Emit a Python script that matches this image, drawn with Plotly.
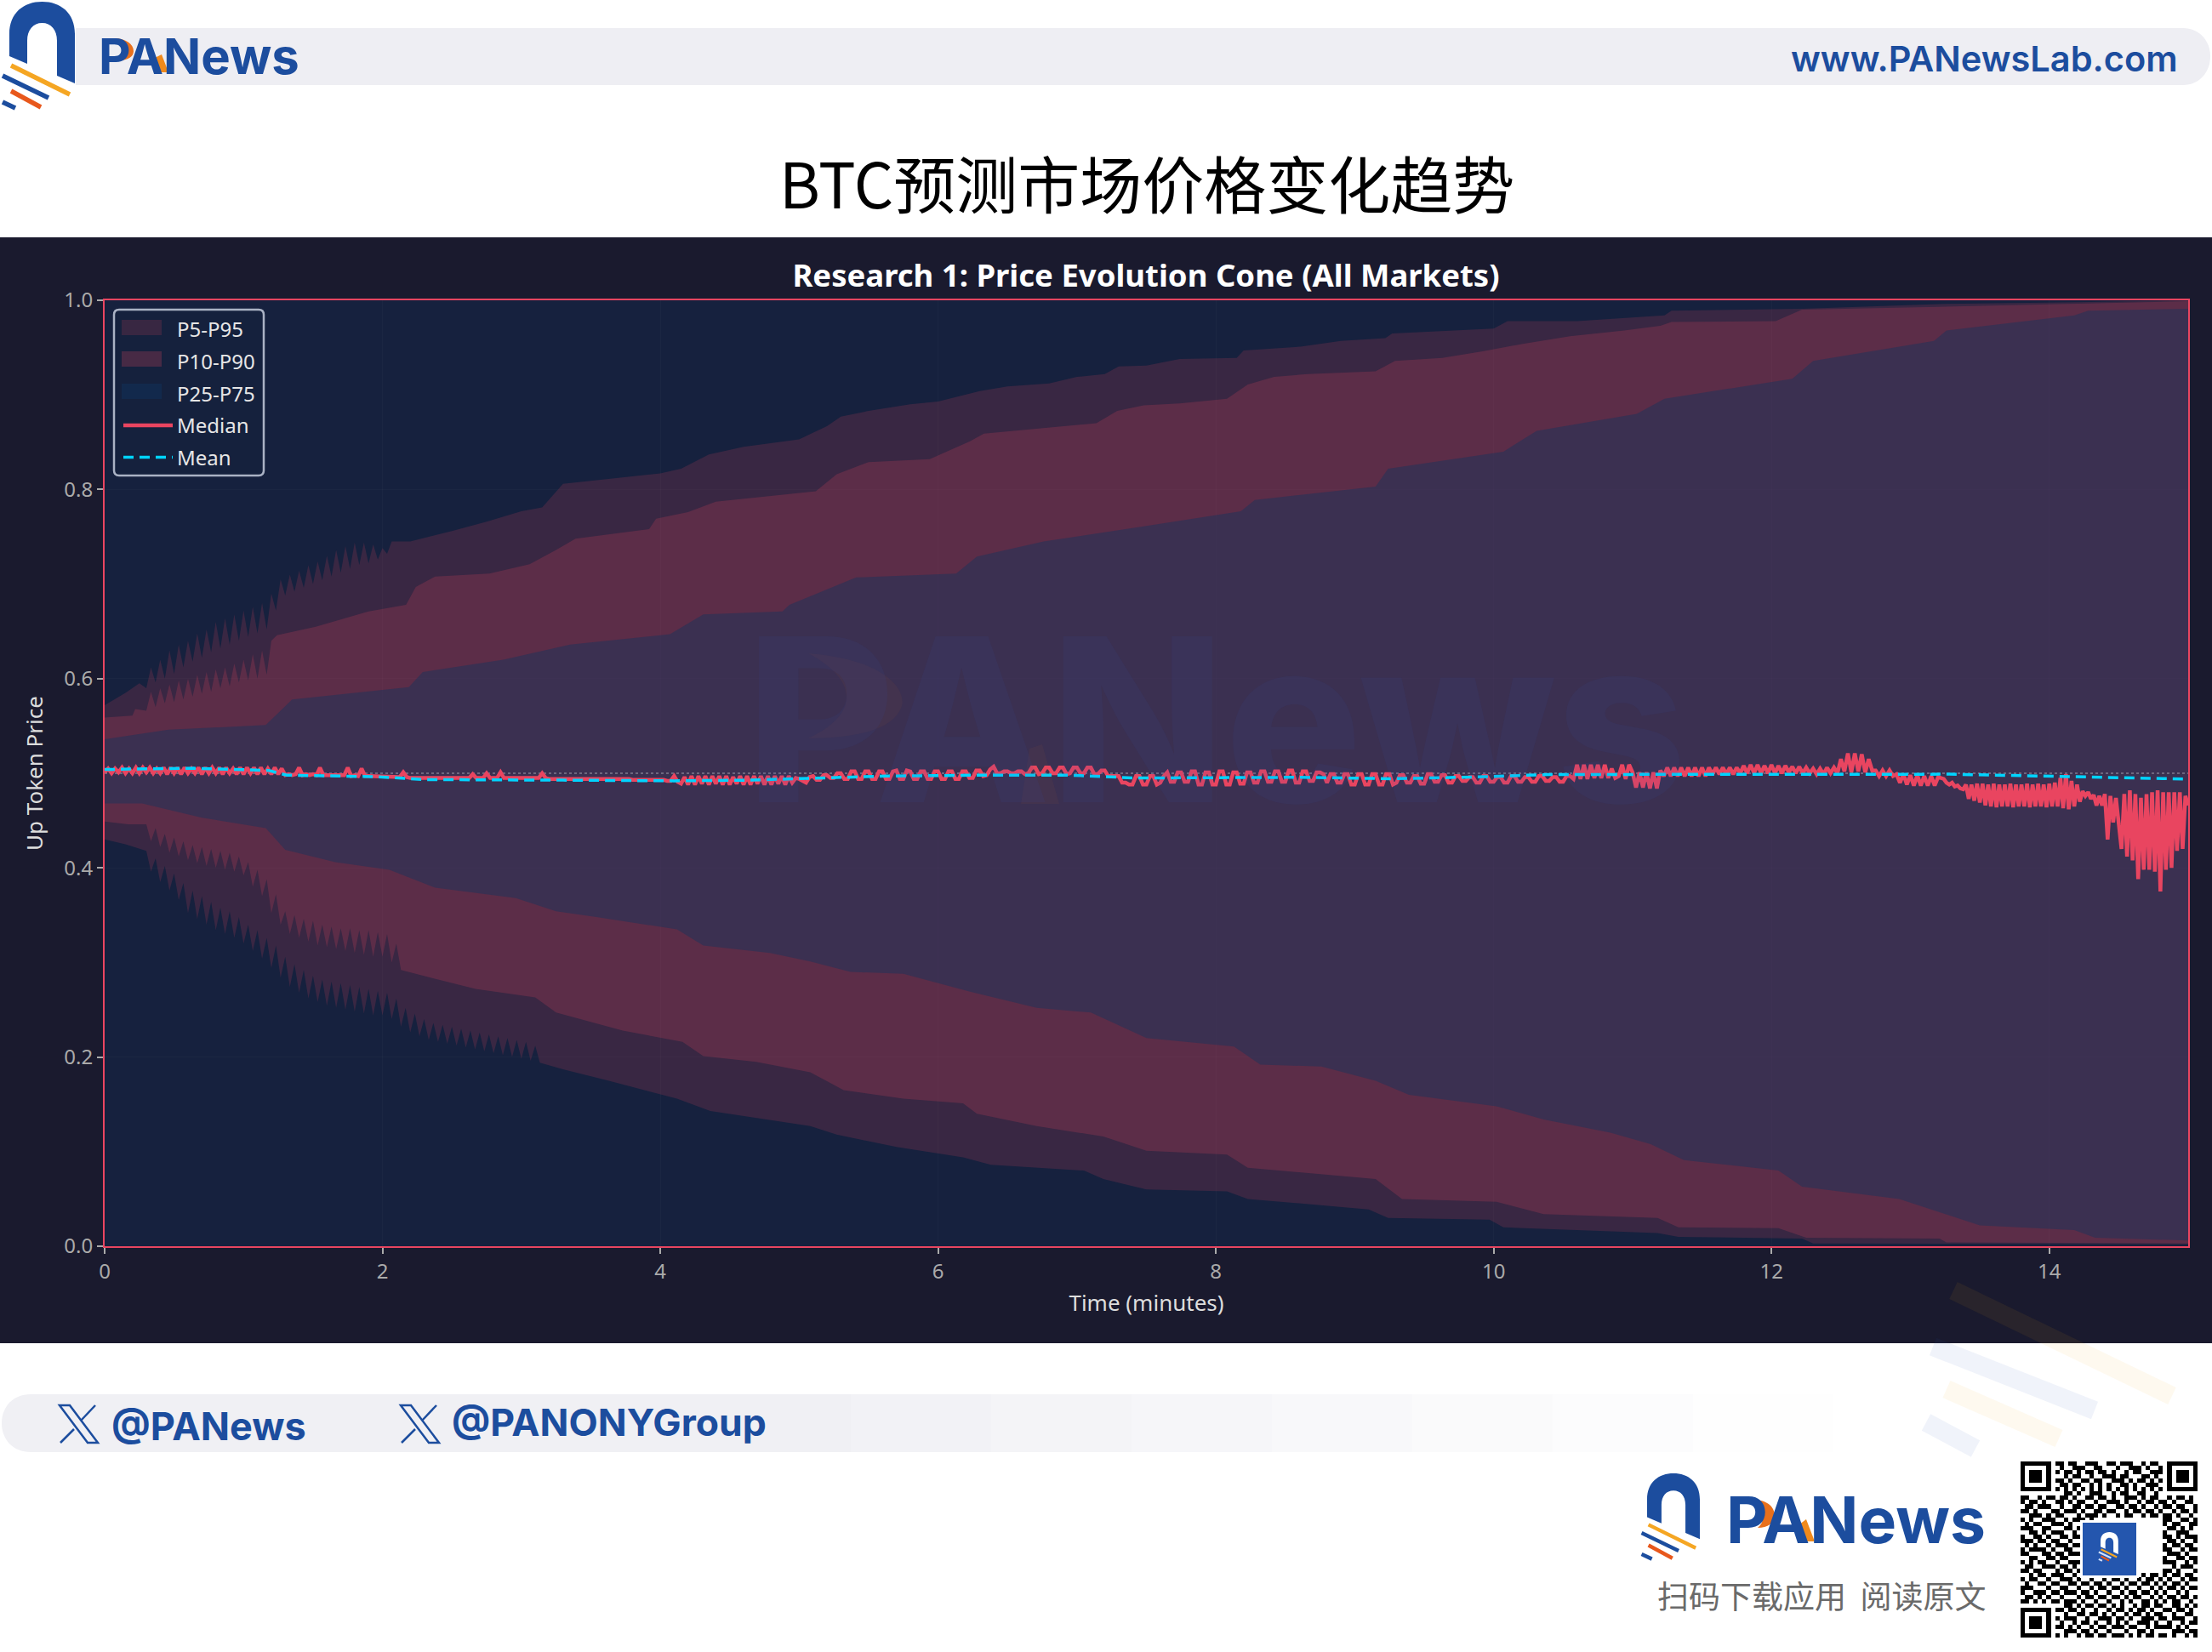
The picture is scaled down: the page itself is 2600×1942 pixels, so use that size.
import plotly.graph_objects as go

W, H = 2600, 1942
TITLE = "Research 1: Price Evolution Cone (All Markets)"
X_TICKS = [0, 2, 4, 6, 8, 10, 12, 14]
Y_TICKS = [0.0, 0.2, 0.4, 0.6, 0.8, 1.0]

# the band edges flicker sample to sample early on: these stretches are read at about 2 s spacing
comb_t = [0.30 + i / 30 for i in range(90)]
p95_comb = [.590,.612,.596,.620,.600,.630,.605,.636,.612,.640,.618,.648,.622,.652,.628,.660,.632,.664,.636,.668,.640,.672,.644,.676,.648,.680,.652,.690,.672,.705,.688,.710,.692,.714,.696,.720,.700,.724,.704,.730,.708,.736,.712,.740,.716,.744,.720,.744,.722,.742,.726,.738,.732,.745]
p90_comb = [.566,.586,.570,.590,.574,.594,.575,.598,.578,.600,.581,.604,.584,.607,.586,.610,.590,.612,.592,.616,.596,.620,.598,.626,.600,.630,.604,.640]
p10_comb = [.446,.428,.442,.422,.436,.416,.432,.412,.428,.408,.424,.405,.422,.402,.420,.400,.418,.398,.416,.396,.412,.392,.406,.380,.398,.370,.388,.352,.372,.340,.354,.330,.350,.326,.346,.322,.344,.318,.340,.316,.338,.314,.336,.312,.336,.310,.334,.308,.334,.306,.332,.306,.330,.300,.320,.292]
p05_comb = [.418,.396,.410,.385,.402,.376,.394,.366,.384,.352,.376,.346,.370,.340,.364,.334,.358,.330,.354,.326,.348,.320,.340,.312,.334,.304,.326,.294,.318,.284,.306,.274,.298,.268,.292,.262,.286,.258,.282,.254,.280,.252,.278,.250,.276,.248,.274,.246,.272,.244,.270,.244,.268,.240,.262,.232,.252,.226,.246,.222,.240,.218,.236,.216,.234,.214,.232,.212,.230,.210,.228,.208,.226,.206,.224,.204,.222,.202,.220,.200,.218,.198,.216,.196,.212,.194]

p95_t = [0,.15,.25] + comb_t[:len(p95_comb)] + [2.2,2.5,2.75,3,3.15,3.3,3.5,3.75,4,4.15,4.35,4.6,5,5.2,5.3,5.5,5.8,6,6.3,6.5,6.8,7,7.2,7.3,7.5,7.74,8.15,8.2,8.61,8.9,9.22,9.27,10,10.1,10.6,11.23,11.28,12.22,13.2,14.2,15]
p95_v = [.572,.585,.595] + p95_comb + [.745,.756,.766,.777,.781,.806,.809,.813,.817,.822,.837,.845,.853,.867,.877,.883,.890,.893,.904,.909,.912,.919,.922,.930,.931,.938,.939,.947,.951,.957,.960,.965,.970,.978,.978,.984,.989,.991,.996,.998,1.0]
p90_t = [0,.2,.22] + comb_t[:len(p90_comb)] + [1.24,1.52,1.9,2.17,2.24,2.38,2.77,3.06,3.25,3.39,3.92,3.97,4.2,4.4,4.74,5.12,5.27,5.5,5.94,6.23,6.33,6.9,7.14,7.29,7.48,7.74,8.08,8.23,8.42,8.66,9.15,9.29,9.63,9.92,10.21,10.55,10.94,11.2,11.28,12.03,12.22,13.2,14.2,15]
p90_v = [.559,.561,.568] + p90_comb + [.646,.655,.671,.678,.697,.708,.711,.721,.736,.748,.758,.769,.776,.787,.792,.798,.816,.829,.832,.851,.859,.867,.870,.883,.889,.891,.896,.911,.919,.922,.925,.936,.939,.946,.954,.962,.968,.973,.977,.978,.990,.993,.996,.999]
p75_t = [0,.46,1.16,1.35,2.19,2.29,2.87,3.35,4.07,4.31,4.88,4.93,5.41,6.13,6.28,6.76,7.48,8.18,8.28,9.15,9.24,10.07,10.31,11.03,11.23,12.15,12.3,13.17,13.26,14.18,14.28,15]
p75_v = [.536,.546,.551,.578,.591,.607,.620,.636,.647,.668,.671,.678,.707,.711,.729,.745,.761,.777,.789,.803,.822,.840,.862,.880,.896,.917,.936,.957,.968,.984,.989,.991]
p25_t = [0,.27,.7,1.16,1.3,1.66,2.05,2.38,2.96,3.25,3.54,4.12,4.31,4.79,5.08,5.37,5.75,6.23,6.71,7.1,7.5,8.13,8.32,8.76,9.15,9.39,10.02,10.36,10.84,11.13,11.37,12.05,12.22,12.92,13.21,13.5,14.18,14.33,15]
p25_v = [.468,.468,.453,.442,.419,.406,.398,.379,.368,.354,.348,.335,.318,.310,.301,.290,.288,.269,.252,.247,.220,.211,.192,.190,.175,.160,.148,.134,.120,.108,.091,.080,.063,.050,.036,.022,.017,.009,.006]
p10_t = [0,.17] + comb_t[:len(p10_comb)] + [2.24,2.67,3.1,3.25,3.73,4.16,4.31,4.69,5.08,5.32,5.75,6.18,6.28,6.71,7.19,7.5,8.08,8.23,9.15,9.34,10.02,10.36,11.18,11.33,12.05,12.25,13.21,13.26,15]
p10_v = [.449,.446] + p10_comb + [.288,.272,.263,.247,.228,.216,.201,.195,.184,.165,.156,.151,.140,.127,.116,.101,.097,.083,.071,.050,.047,.034,.030,.020,.019,.009,.008,.004,.003]
p05_t = [0,.15] + comb_t[:len(p05_comb)] + [3.3,3.63,4.12,4.36,5.08,5.27,5.7,6.18,6.38,7.05,7.19,7.5,8.08,8.23,9.1,9.24,9.97,10.07,11.18,11.33,12.22,12.3,15]
p05_v = [.430,.425] + p05_comb + [.187,.175,.156,.143,.127,.118,.105,.094,.086,.080,.071,.060,.058,.050,.039,.030,.028,.020,.014,.010,.008,.003,.002]

mean_t = [0,.64,1.18,1.31,1.97,2.3,3.3,4.1,4.63,5.16,5.62,6.29,6.95,7.42,7.95,8.61,9.28,9.94,10.39,11.24,12.64,13.28,14.16,15]
mean_v = [.504,.5053,.503,.498,.4963,.4933,.4927,.492,.4927,.495,.497,.498,.498,.495,.495,.4957,.4942,.4963,.4987,.499,.4995,.499,.4964,.4938]

# median, read every 0.025 min up to 13.2 (one row per minute)
median_coarse = [
 .501,.505,.500,.505,.501,.506,.500,.505,.500,.506,.500,.506,.501,.506,.500,.505,.500,.506,.499,.506,.500,.506,.499,.506,.500,.505,.500,.506,.499,.506,.500,.506,.500,.506,.499,.506,.500,.505,.499,.506,
 .499,.506,.500,.506,.499,.506,.499,.505,.499,.506,.499,.505,.498,.499,.498,.499,.506,.498,.499,.498,.499,.498,.506,.498,.498,.498,.497,.498,.497,.498,.506,.497,.498,.497,.505,.497,.497,.497,.496,.497,
 .496,.496,.496,.496,.496,.496,.501,.496,.495,.495,.495,.495,.495,.495,.495,.495,.495,.495,.495,.496,.495,.495,.495,.496,.495,.495,.499,.495,.495,.495,.500,.495,.495,.495,.501,.495,.495,.495,.496,.495,
 .495,.495,.495,.496,.495,.495,.500,.495,.494,.494,.494,.494,.494,.494,.494,.495,.494,.494,.494,.494,.494,.494,.494,.494,.494,.494,.494,.495,.494,.494,.494,.494,.493,.493,.493,.494,.493,.493,.493,.494,
 .493,.493,.492,.492,.497,.491,.489,.496,.488,.497,.488,.497,.489,.497,.488,.497,.489,.497,.488,.497,.488,.496,.489,.497,.488,.497,.488,.497,.489,.497,.488,.497,.488,.497,.489,.497,.488,.497,.490,.495,
 .494,.492,.490,.496,.497,.493,.493,.498,.498,.495,.495,.500,.500,.494,.494,.502,.502,.494,.494,.502,.502,.494,.494,.502,.502,.494,.494,.502,.503,.494,.494,.503,.502,.494,.494,.502,.502,.494,.494,.502,
 .502,.494,.494,.502,.502,.494,.494,.502,.502,.495,.495,.503,.503,.497,.498,.504,.507,.500,.500,.502,.502,.500,.500,.502,.502,.499,.500,.506,.506,.499,.500,.506,.506,.500,.500,.506,.506,.499,.500,.506,
 .506,.500,.500,.506,.506,.499,.499,.503,.503,.497,.497,.497,.497,.490,.490,.488,.488,.497,.497,.488,.488,.497,.497,.488,.490,.497,.501,.491,.491,.501,.501,.491,.491,.502,.502,.488,.488,.501,.501,.488,
 .488,.502,.502,.488,.488,.501,.501,.489,.489,.501,.501,.490,.490,.502,.502,.491,.491,.502,.502,.491,.491,.503,.503,.490,.490,.502,.502,.492,.492,.501,.501,.499,.490,.499,.499,.490,.490,.499,.499,.488,
 .488,.499,.499,.488,.488,.499,.499,.488,.488,.499,.499,.488,.490,.498,.498,.490,.490,.497,.497,.489,.489,.499,.499,.491,.491,.498,.498,.490,.490,.497,.497,.492,.492,.496,.496,.490,.490,.497,.497,.491,
 .491,.496,.496,.490,.490,.497,.497,.491,.491,.496,.496,.491,.491,.497,.497,.492,.492,.496,.496,.491,.491,.497,.497,.494,.509,.494,.509,.494,.509,.495,.509,.495,.509,.495,.505,.495,.497,.509,.494,.509,
 .501,.485,.501,.485,.501,.484,.501,.484,.503,.497,.506,.497,.506,.497,.506,.497,.506,.497,.506,.497,.506,.497,.506,.499,.506,.499,.506,.499,.506,.499,.506,.500,.508,.500,.509,.500,.509,.500,.508,.500,
 .509,.500,.508,.500,.508,.501,.507,.500,.507,.500,.506,.500,.505,.499,.505,.499,.506,.500,.506,.500,.515,.502,.521,.501,.521,.502,.520,.501,.515,.503,.503,.497,.503,.497,.503,.497,.499,.490,.499,.488,
 .498,.487,.498,.487,.497,.487,.497,.487,.496]
median_coarse_t = [i * 0.025 for i in range(len(median_coarse))]

# median, read every 0.02 min from 13.24 to the end
median_fine = [
 .494,.490,.488,.490,.486,.487,.484,.483,.488,.473,.488,.471,.489,.469,.489,.466,
 .488,.465,.489,.464,.488,.465,.488,.465,.489,.464,.488,.465,.488,.465,.489,.464,
 .488,.465,.489,.465,.488,.464,.489,.465,.490,.465,.495,.463,.499,.462,.492,.465,.488,.470,
 .481,.476,.480,.473,.477,.466,.476,.466,.478,.430,.476,.448,.474,.446,.420,.478,.412,.482,
 .408,.478,.388,.474,.398,.478,.398,.480,.396,.482,.375,.480,.398,.480,.400,.480,.418,.480,.420,.476,.466]
median_fine_t = [13.24 + i * 0.02 for i in range(len(median_fine))]
median_t = median_coarse_t + median_fine_t
median_v = median_coarse + median_fine

FINDER = ["11111110","10000010","10111010","10111010","10111010","10000010","11111110","00000000"]
qr_top = ["1101100111001101110010110","0100111001100010011101001","1011010110110100101100111","0010110010011101100011010",
          "1101001101100111010110101","0110110010101001101001110","1010101010101010101010101","0011010011100101100110010"]
qr_mid = [
 "11001011011010011011010011101011001011010","10110100110101100100111010010110110100110",
 "01101110010011011011001101101001011011001","11010001101110100110110010110110100101101",
 "00111010110001011101001011001011011010010","10100111001011101000000000000000011001101",
 "01011001110100110100000000000000010110011","11100110001101011000000000000000001101010",
 "00110101110010100100000000000000010011100","10011010011011011000000000000000011010111",
 "11101101100100101100000000000000001101001","01010010111011010000000000000000010110110",
 "10111101001100101100000000000000011001011","11000110110111010000000000000000001110100",
 "00110011011000101100000000000000010011011","10101100100111011000000000000000011100101",
 "01100111011010100100000000000000000101110","11011000101101011000000000000000011010001",
 "00101101110010110110100101101011010110110","10110010011101001001011010010110101001011",
 "01001101100110110110100101101101010110100","11100010011001001011011010010010101101011",
 "10011101101110110100100101101101010010100","01101010010001011011011010110010101101101",
 "11010101101110100100100101001101010110010"]
qr_bottom = ["0011010110110101001011011","1101101001001011010110100","0010011011010100101101011","1011100100111011010011101",
             "0100101101001010100111010","1101010010110111011001011","0011101101001000100110100","1010010110110111010101101"]
qr_rows = [FINDER[i] + qr_top[i] + FINDER[i][::-1] for i in range(8)]
qr_rows += [r[:41].ljust(41, "0") for r in qr_mid]
_rev = FINDER[::-1]
qr_rows += [_rev[i] + (qr_bottom[i] + qr_bottom[i])[:33] for i in range(8)]
qr_z = [[int(c) for c in r] for r in qr_rows]

BLUE = "#1c4d9e"; ORANGE = "#f5a623"; RED_O = "#e8581c"
fx = lambda p: p / W
fy = lambda p: 1 - p / H
shapes, annos = [], []

def rect(x0, y0, x1, y1, fill, layer="below", line=None):
    shapes.append(dict(type="rect", xref="paper", yref="paper", x0=fx(x0), x1=fx(x1), y0=fy(y0), y1=fy(y1),
                       fillcolor=fill, layer=layer, line=line or dict(width=0)))

def path(points, fill=None, layer="above", line=None, close=True, tf=lambda x, y: (x, y)):
    d = ""
    for seg_ in points:
        cmd, vals = seg_[0], seg_[1:]
        pts = [tf(vals[i], vals[i + 1]) for i in range(0, len(vals), 2)]
        d += cmd + " ".join(f"{fx(a):.5f},{fy(b):.5f}" for a, b in pts) + " "
    if close:
        d += "Z"
    shapes.append(dict(type="path", xref="paper", yref="paper", path=d, fillcolor=fill or "rgba(0,0,0,0)",
                       layer=layer, line=line or dict(width=0)))

def seg(x0, y0, x1, y1, color, width, layer="above"):
    shapes.append(dict(type="line", xref="paper", yref="paper", x0=fx(x0), x1=fx(x1), y0=fy(y0), y1=fy(y1),
                       layer=layer, line=dict(color=color, width=width)))

def text(px, py, s, size, color, anchor="left", weight=400, family="Inter", **kw):
    annos.append(dict(x=fx(px), y=fy(py), xref="paper", yref="paper", text=s, showarrow=False, xanchor=anchor,
                      yanchor="middle", font=dict(size=size, color=color, family=family, weight=weight), **kw))

def logo(ox, oy, k, arch=BLUE, stripes=(ORANGE, BLUE, RED_O, BLUE), sw=5.5, layer="above"):
    tf = lambda x, y: (ox + (x - 11) * k, oy + (y - 2) * k)
    path([("M", 11, 66), ("L", 11, 40), ("C", 11, 15, 28, 2, 49.5, 2), ("C", 71, 2, 88, 15, 88, 40), ("L", 88, 98), ("L", 67, 89),
          ("L", 67, 48), ("C", 67, 35, 60, 27, 49.5, 27), ("C", 39, 27, 32, 35, 32, 48), ("L", 32, 75)], fill=arch, tf=tf, layer=layer)
    for (a, b, c, d), col in zip([(13, 77, 82, 111), (3, 89, 57, 115), (13, 107, 48, 126), (3, 120, 18, 127)], stripes):
        p, q = tf(a, b), tf(c, d)
        seg(p[0], p[1], q[0], q[1], col, sw * k, layer=layer)

# page furniture
rect(0, 279, 2600, 1579, "#1a1a2e")
rect(123, 353, 2572, 1465, "#16213e")
path([("M", 89, 33), ("L", 2566, 33), ("C", 2585, 33, 2598, 48, 2598, 66), ("C", 2598, 85, 2585, 100, 2566, 100), ("L", 89, 100)],
     fill="#eeeef3", layer="below")
logo(11, 2, 1.0)
text(114, 66, "PANews", 58, BLUE, weight=700)
path([("M", 134, 45), ("C", 148, 45, 157, 52, 157, 60), ("C", 157, 67, 150, 71, 140, 71), ("C", 148, 66, 148, 54, 134, 45)], fill="#e8701c")
path([("M", 182, 68), ("L", 190, 64), ("L", 198, 85), ("L", 186, 85)], fill="#f08a1c")
text(2562, 69, "www.PANewsLab.com", 41.5, BLUE, anchor="right", weight=600)
text(1348, 213, "BTC预测市场价格变化趋势", 73, "#000000", anchor="center", family="Noto Sans CJK SC")

# footer bar
path([("M", 36, 1639), ("L", 1000, 1639), ("L", 1000, 1707), ("L", 36, 1707), ("C", 15, 1707, 2, 1692, 2, 1673), ("C", 2, 1654, 15, 1639, 36, 1639)],
     fill="#f0f0f4", layer="below")
for i, c in enumerate(["#f2f2f6", "#f4f4f7", "#f6f6f9", "#f8f8fa", "#fafafb", "#fcfcfd", "#fefefe"]):
    rect(1000 + i * 165, 1639, 1165 + i * 165, 1707, c)
for ox in (70, 471):
    path([("M", ox, 1652), ("L", ox + 12, 1652), ("L", ox + 45, 1696), ("L", ox + 33, 1696)], line=dict(color=BLUE, width=2.5))
    seg(ox + 42, 1652, ox + 25, 1670, BLUE, 2.5)
    seg(ox + 17, 1680, ox + 1, 1696, BLUE, 2.5)
text(129, 1676, "@PANews", 45, BLUE, weight=700)
text(529, 1672, "@PANONYGroup", 44.5, BLUE, weight=700)

logo(1936, 1732, 0.805)
text(2027, 1786, "PANews", 75, BLUE, weight=700)
path([("M", 2060, 1763), ("C", 2078, 1763, 2086, 1772, 2086, 1782), ("C", 2086, 1790, 2078, 1796, 2066, 1796), ("C", 2076, 1788, 2074, 1773, 2060, 1763)], fill="#e8701c")
path([("M", 2115, 1792), ("L", 2123, 1786), ("L", 2133, 1812), ("L", 2120, 1812)], fill="#f08a1c")
text(2337, 1875, "扫码下载应用  阅读原文", 37, "#6a6a6a", anchor="right", family="Noto Sans CJK SC")

# QR centre icon
rect(2445, 1787, 2514, 1855, "#ffffff", layer="above")
rect(2448, 1790, 2511, 1852, "#2456ae", layer="above")
logo(2469, 1801, 0.27, arch="#ffffff", stripes=("#f5a623", "#cfe0ff", "#e8581c", "#cfe0ff"), sw=8)

# faint decoration
ORA_T = "rgba(245,166,35,0.07)"; BLU_T = "rgba(40,90,180,0.07)"
seg(2296, 1517, 2553, 1641, ORA_T, 22)
seg(2288, 1633, 2420, 1691, ORA_T, 22)
seg(2272, 1583, 2462, 1658, BLU_T, 22)
seg(2264, 1672, 2322, 1703, BLU_T, 22)

# watermark
text(1430, 845, "PANews", 268, "rgba(50,80,170,0.10)", anchor="center", weight=800)
path([("M", 950, 768), ("C", 1040, 775, 1065, 810, 1060, 830), ("C", 1050, 860, 1000, 868, 950, 868), ("C", 1010, 840, 1010, 800, 950, 768)], fill="rgba(200,110,30,0.06)")
path([("M", 1210, 880), ("L", 1225, 875), ("L", 1245, 945), ("L", 1200, 945)], fill="rgba(200,110,30,0.06)")

# legend box and swatches
path([("M", 140, 364), ("L", 304, 364), ("C", 308, 364, 310, 366, 310, 370), ("L", 310, 553), ("C", 310, 557, 308, 559, 304, 559),
      ("L", 140, 559), ("C", 136, 559, 134, 557, 134, 553), ("L", 134, 370), ("C", 134, 366, 136, 364, 140, 364)],
     fill="rgba(22,33,62,0.75)", line=dict(color="#aab2c4", width=2.5))
for py, c in [(385, "rgba(233,69,96,0.17)"), (422, "rgba(233,69,96,0.24)"), (460, "rgba(15,52,96,0.45)")]:
    rect(143, py - 9, 190, py + 9, c, layer="above")

def band(name, ut, uv, lt, lv, color):
    return go.Scatter(x=ut + lt[::-1], y=uv + lv[::-1], name=name, mode="lines", fill="toself", fillcolor=color,
                      line=dict(width=0, color=color), hoverinfo="skip", showlegend=False)

def key(name):
    return go.Scatter(x=[None], y=[None], name=name, mode="lines", legendgroup=name, line=dict(color="rgba(0,0,0,0)", width=1))

fig = go.Figure()
fig.add_trace(band("P5-P95", p95_t, p95_v, p05_t, p05_v, "rgba(233,69,96,0.17)"))
fig.add_trace(band("P10-P90", p90_t, p90_v, p10_t, p10_v, "rgba(233,69,96,0.20)"))
fig.add_trace(band("P25-P75", p75_t, p75_v, p25_t, p25_v, "rgba(15,52,96,0.42)"))
for nm in ("P5-P95", "P10-P90", "P25-P75"):
    fig.add_trace(key(nm))
fig.add_trace(go.Scatter(x=[0, 15], y=[0.5, 0.5], mode="lines", showlegend=False, hoverinfo="skip",
                         line=dict(color="rgba(255,255,255,0.35)", width=1.5, dash="dot")))
fig.add_trace(go.Scatter(x=median_t, y=median_v, name="Median", legendgroup="Median", mode="lines", line=dict(color="#e94560", width=4.5)))
fig.add_trace(go.Scatter(x=mean_t, y=mean_v, name="Mean", legendgroup="Mean", mode="lines", line=dict(color="#00d4ff", width=3.5, dash="12px,7px")))
fig.add_trace(go.Heatmap(z=qr_z, xaxis="x2", yaxis="y2", colorscale=[[0, "#ffffff"], [1, "#000000"]], showscale=False, hoverinfo="skip", zmin=0, zmax=1))

AX = dict(showline=True, linecolor="#e94560", linewidth=2, mirror=True, ticks="outside", ticklen=7, tickwidth=2,
          tickcolor="#aaaaaa", tickfont=dict(size=24, color="#aaaaaa", family="Noto Sans"),
          gridcolor="rgba(255,255,255,0.025)", zeroline=False, automargin=False)
fig.update_layout(
    width=W, height=H, margin=dict(l=0, r=0, t=0, b=0), paper_bgcolor="#ffffff", plot_bgcolor="rgba(0,0,0,0)",
    font=dict(family="Noto Sans", color="#ffffff"),
    title=dict(text=TITLE, x=1347 / W, xanchor="center", xref="paper", y=fy(324.5), yanchor="middle",
               font=dict(size=36.5, color="#ffffff", family="Noto Sans", weight=700)),
    xaxis=dict(AX, domain=[fx(123), fx(2572)], range=[0, 15], tickvals=X_TICKS, ticktext=[str(v) for v in X_TICKS],
               title=dict(text="Time (minutes)", standoff=14, font=dict(size=26, color="#dddddd", family="Noto Sans"))),
    yaxis=dict(AX, domain=[fy(1465), fy(353)], range=[0, 1], tickvals=Y_TICKS, ticktext=[f"{v:.1f}" for v in Y_TICKS],
               title=dict(text="Up Token Price", standoff=17, font=dict(size=26, color="#dddddd", family="Noto Sans"))),
    xaxis2=dict(domain=[fx(2375), fx(2583)], anchor="y2", visible=False, range=[-0.5, 40.5], fixedrange=True),
    yaxis2=dict(domain=[fy(1925), fy(1718)], anchor="x2", visible=False, range=[40.5, -0.5], fixedrange=True),
    legend=dict(x=fx(140), y=fy(365), xanchor="left", yanchor="top", bgcolor="rgba(0,0,0,0)", borderwidth=0,
                font=dict(size=24, color="#e6e6e6", family="Noto Sans"), itemwidth=58, tracegroupgap=3.4),
    shapes=shapes, annotations=annos, hovermode=False,
)
fig.write_html("out.html", config=dict(displayModeBar=False),
               post_script="document.body.style.margin='0';document.body.style.overflow='hidden';")
